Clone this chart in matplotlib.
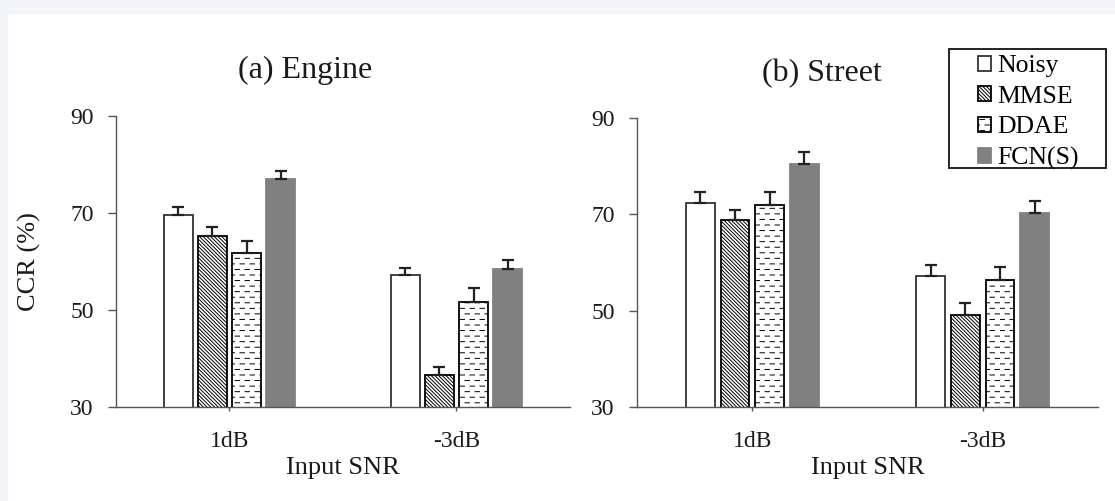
import numpy as np
import matplotlib
matplotlib.use("Agg")
import matplotlib.pyplot as plt
import matplotlib.hatch as mhatch
from matplotlib.path import Path
from matplotlib.patches import Rectangle

# ---------------- data ----------------
snr_labels = ["1dB", "-3dB"]
methods = ["Noisy", "MMSE", "DDAE", "FCN(S)"]

engine_noisy = [69.6, 57.2]
engine_mmse = [65.3, 36.6]
engine_ddae = [61.7, 51.7]
engine_fcn = [77.0, 58.5]
engine_noisy_err = [1.7, 1.5]
engine_mmse_err = [1.9, 1.6]
engine_ddae_err = [2.5, 2.8]
engine_fcn_err = [1.7, 1.8]

street_noisy = [72.4, 57.2]
street_mmse = [68.8, 49.2]
street_ddae = [71.9, 56.4]
street_fcn = [80.4, 70.2]
street_noisy_err = [2.3, 2.3]
street_mmse_err = [2.2, 2.3]
street_ddae_err = [2.8, 2.6]
street_fcn_err = [2.5, 2.6]

y_ticks = [30, 50, 70, 90]

# ---------------- custom dashed-row hatch (replaces '-') ----------------
class DashedRows(mhatch.HatchPatternBase):
    def __init__(self, hatch, density):
        self.num_rows = int(hatch.count('-') * density)
        self.dashes = 10
        self.num_vertices = self.num_rows * self.dashes * 2

    def set_vertices_and_codes(self, vertices, codes):
        d = self.dashes
        L = 0.45 / d
        k = 0
        for r in range(self.num_rows):
            y = (r + 0.5) / self.num_rows
            off = (0.5 / d) if r % 2 else 0.0
            for j in range(d):
                x0 = j / d + off
                vertices[k] = (x0, y)
                vertices[k + 1] = (x0 + L, y)
                codes[k] = Path.MOVETO
                codes[k + 1] = Path.LINETO
                k += 2

for i, c in enumerate(mhatch._hatch_types):
    if c is mhatch.HorizontalHatch:
        mhatch._hatch_types[i] = DashedRows

plt.rcParams['font.family'] = ['Liberation Serif', 'DejaVu Serif']
plt.rcParams['hatch.linewidth'] = 0.7

W, H = 1115, 501
fig = plt.figure(figsize=(W / 100, H / 100), dpi=100, facecolor='white')

# light page border
bg = '#f2f4f8'
fig.patches.append(Rectangle((0, 0), 7 / W, 1, transform=fig.transFigure, color=bg, zorder=-10))
fig.patches.append(Rectangle((0, 1 - 13 / H), 1, 13 / H, transform=fig.transFigure, color=bg, zorder=-10))

def px_axes(x0, x1, ytop, ybot):
    return fig.add_axes([x0 / W, 1 - ybot / H, (x1 - x0) / W, (ybot - ytop) / H])

ax1 = px_axes(116, 570, 116, 407)
ax2 = px_axes(637, 1098, 118, 407)

styles = [
    dict(facecolor='white', edgecolor='#333333', hatch=None),
    dict(facecolor='white', edgecolor='black', hatch='\\' * 9),
    dict(facecolor='white', edgecolor='black', hatch='---'),
    dict(facecolor='#808080', edgecolor='#808080', hatch=None),
]

width = 0.125
step = 0.15
x = np.arange(len(snr_labels))

def draw(ax, vals, errs, title, title_x):
    handles = []
    for i, (v, e, st) in enumerate(zip(vals, errs, styles)):
        pos = x + (i - 1.5) * step
        b = ax.bar(pos, v, width, bottom=0, facecolor=st['facecolor'],
                   edgecolor=st['edgecolor'], hatch=st['hatch'], linewidth=1.3,
                   label=methods[i], zorder=2)
        ax.errorbar(pos, v, yerr=[np.zeros(len(e)), e], fmt='none', ecolor='#222222',
                    elinewidth=1.6, capsize=4.5, capthick=1.6, zorder=3)
        handles.append(b)
    ax.set_xlim(-0.5, 1.5)
    ax.set_ylim(30, 90)
    ax.set_yticks(y_ticks)
    ax.set_xticks(x)
    ax.set_xticklabels(snr_labels)
    for s in ['top', 'right']:
        ax.spines[s].set_visible(False)
    for s in ['left', 'bottom']:
        ax.spines[s].set_color('#555555')
        ax.spines[s].set_linewidth(1.0)
    ax.tick_params(axis='y', direction='out', length=6, width=1, color='#555555',
                   labelsize=17, pad=10, labelcolor='#1a1a1a')
    ax.tick_params(axis='x', direction='out', length=3, width=1, color='#555555',
                   labelsize=17, pad=14, labelcolor='#1a1a1a')
    ax.set_xlabel('Input SNR', fontsize=19, labelpad=4, color='#1a1a1a')
    ax.text(title_x, 1.155, title, transform=ax.transAxes, ha='center', va='center',
            fontsize=23, color='#1a1a1a')
    ax.patch.set_alpha(0)
    return handles

h = draw(ax1, [engine_noisy, engine_mmse, engine_ddae, engine_fcn],
         [engine_noisy_err, engine_mmse_err, engine_ddae_err, engine_fcn_err],
         '(a) Engine', (305 - 116) / (570 - 116))
draw(ax2, [street_noisy, street_mmse, street_ddae, street_fcn],
     [street_noisy_err, street_mmse_err, street_ddae_err, street_fcn_err],
     '(b) Street', (822 - 637) / (1098 - 637))
ax1.set_ylabel('CCR (%)', fontsize=19, labelpad=21, color='#1a1a1a')

# legend frame drawn as a box; entries placed inside it
box_x0, box_x1, box_y0, box_y1 = 949, 1106, 49, 168
fig.patches.append(Rectangle((box_x0 / W, 1 - box_y1 / H), (box_x1 - box_x0) / W,
                             (box_y1 - box_y0) / H, transform=fig.transFigure,
                             facecolor='white', edgecolor='#111111', linewidth=1.3, zorder=5))
leg = fig.legend(h, methods, loc='upper left', bbox_to_anchor=(972 / W, 1 - 49 / H),
                 fontsize=18.5, frameon=False, handlelength=0.5,
                 handleheight=0.5, handletextpad=0.25, labelspacing=0.33,
                 borderpad=0.25, borderaxespad=0)
leg.set_zorder(6)

fig.savefig('out.png', dpi=100, facecolor='white')
